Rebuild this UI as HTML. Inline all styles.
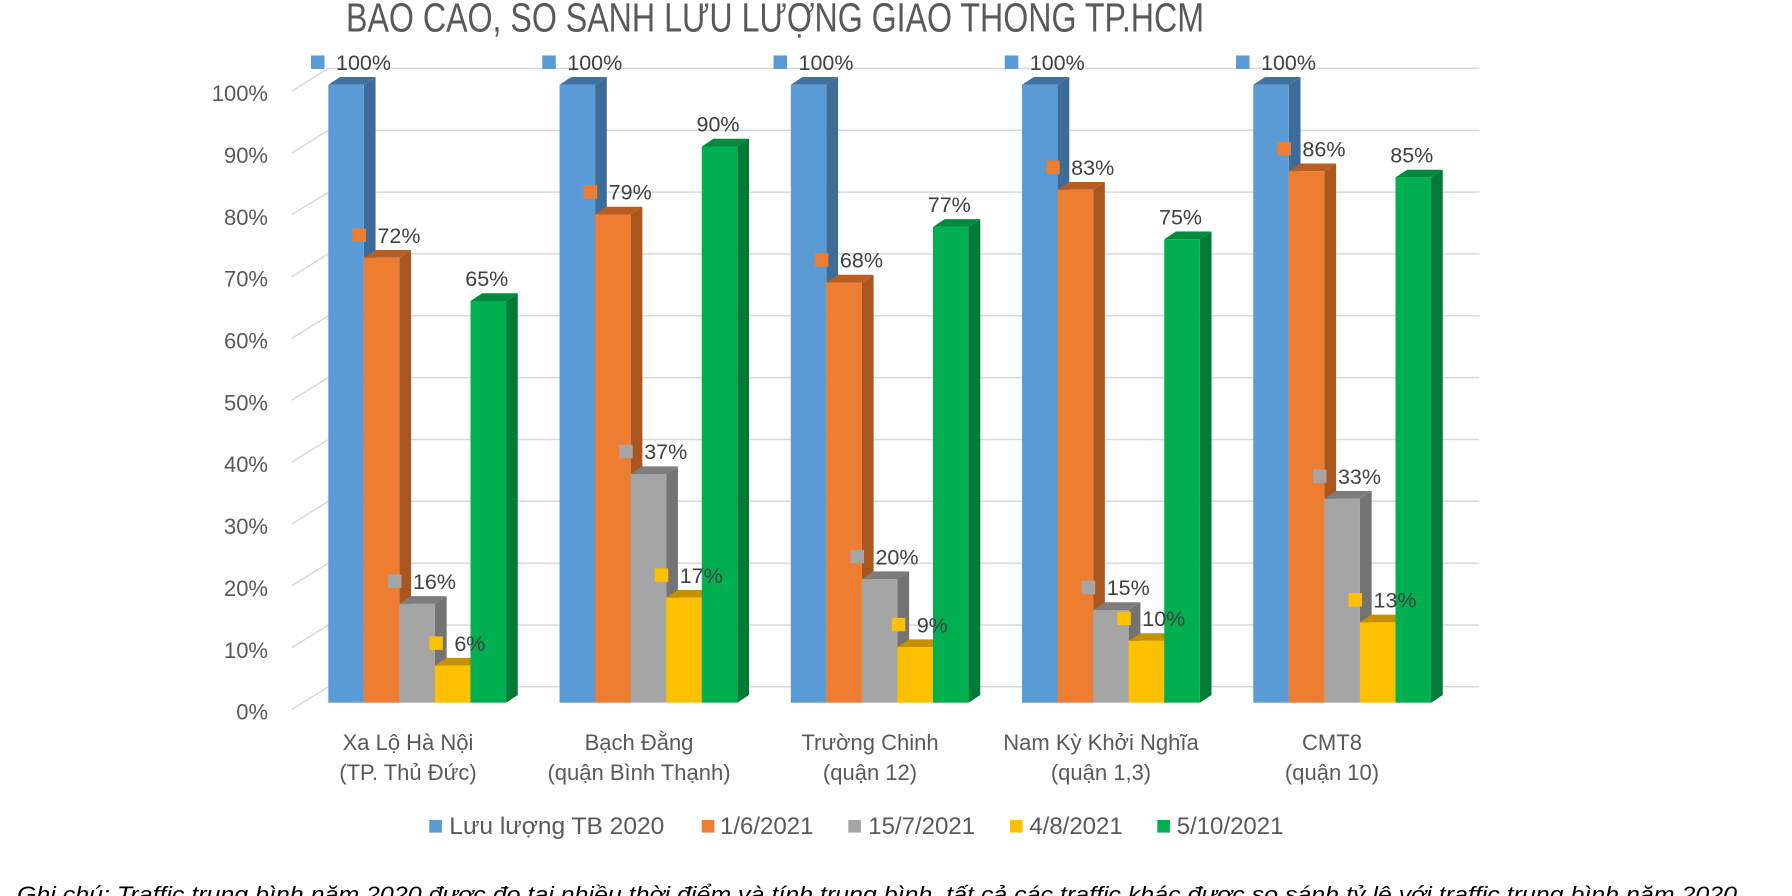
<!DOCTYPE html>
<html><head><meta charset="utf-8"><style>
html,body{margin:0;padding:0;background:#fff;}
svg{display:block;}
text{font-family:"Liberation Sans","Noto Sans CJK SC",sans-serif;}
</style></head><body>
<svg width="1792" height="896" viewBox="0 0 1792 896" xmlns="http://www.w3.org/2000/svg">
<defs><clipPath id="tc"><rect x="0" y="2" width="1792" height="60"/></clipPath></defs>
<rect width="1792" height="896" fill="#fff"/>
<g clip-path="url(#tc)">
<text x="346" y="31.5" font-size="41" fill="#595959" textLength="858" lengthAdjust="spacingAndGlyphs">BÁO CÁO, SO SÁNH LƯU LƯỢNG GIAO THÔNG TP.HCM</text>
</g>
<g stroke="#D9D9D9" stroke-width="1.5" fill="none">
<polyline points="291.7,709.5 328.3,686.8 1479.3,686.8"/>
<polyline points="291.7,647.66 328.3,624.96 1479.3,624.96"/>
<polyline points="291.7,585.82 328.3,563.12 1479.3,563.12"/>
<polyline points="291.7,523.98 328.3,501.28 1479.3,501.28"/>
<polyline points="291.7,462.14 328.3,439.44 1479.3,439.44"/>
<polyline points="291.7,400.3 328.3,377.6 1479.3,377.6"/>
<polyline points="291.7,338.46 328.3,315.76 1479.3,315.76"/>
<polyline points="291.7,276.62 328.3,253.92 1479.3,253.92"/>
<polyline points="291.7,214.78 328.3,192.08 1479.3,192.08"/>
<polyline points="291.7,152.94 328.3,130.24 1479.3,130.24"/>
<polyline points="291.7,91.1 328.3,68.4 1479.3,68.4"/>
</g>
<g font-size="22" fill="#595959" text-anchor="end">
<text x="268" y="101.2">100%</text>
<text x="268" y="163.04">90%</text>
<text x="268" y="224.88">80%</text>
<text x="268" y="286.72">70%</text>
<text x="268" y="348.56">60%</text>
<text x="268" y="410.4">50%</text>
<text x="268" y="472.24">40%</text>
<text x="268" y="534.08">30%</text>
<text x="268" y="595.92">20%</text>
<text x="268" y="657.76">10%</text>
<text x="268" y="719.6">0%</text>
</g>

<!-- Group 1 -->
<g transform="translate(328.3,0)"><polygon points="35.55,84.7 47.25,77 47.25,695 35.55,702.7" fill="#3E6C98"/><polygon points="0,84.7 11.7,77 47.25,77 35.55,84.7" fill="#41729F"/><rect x="0" y="84.7" width="35.55" height="618" fill="#5B9BD5"/></g>
<g transform="translate(363.85,0)"><polygon points="35.55,257.74 47.25,250.04 47.25,695 35.55,702.7" fill="#A9571F"/><polygon points="0,257.74 11.7,250.04 47.25,250.04 35.55,257.74" fill="#B85E22"/><rect x="0" y="257.74" width="35.55" height="444.96" fill="#ED7D31"/></g>
<g transform="translate(399.4,0)"><polygon points="35.55,603.82 47.25,596.12 47.25,695 35.55,702.7" fill="#737373"/><polygon points="0,603.82 11.7,596.12 47.25,596.12 35.55,603.82" fill="#7D7D7D"/><rect x="0" y="603.82" width="35.55" height="98.88" fill="#A5A5A5"/></g>
<g transform="translate(434.95,0)"><polygon points="35.55,665.62 47.25,657.92 47.25,695 35.55,702.7" fill="#B88A00"/><polygon points="0,665.62 11.7,657.92 47.25,657.92 35.55,665.62" fill="#C49200"/><rect x="0" y="665.62" width="35.55" height="37.08" fill="#FFC000"/></g>
<g transform="translate(470.5,0)"><polygon points="35.55,301 47.25,293.3 47.25,695 35.55,702.7" fill="#007A37"/><polygon points="0,301 11.7,293.3 47.25,293.3 35.55,301" fill="#008A3E"/><rect x="0" y="301" width="35.55" height="401.7" fill="#00B050"/></g>

<!-- Group 2 -->
<g transform="translate(559.55,0)"><polygon points="35.55,84.7 47.25,77 47.25,695 35.55,702.7" fill="#3E6C98"/><polygon points="0,84.7 11.7,77 47.25,77 35.55,84.7" fill="#41729F"/><rect x="0" y="84.7" width="35.55" height="618" fill="#5B9BD5"/></g>
<g transform="translate(595.1,0)"><polygon points="35.55,214.48 47.25,206.78 47.25,695 35.55,702.7" fill="#A9571F"/><polygon points="0,214.48 11.7,206.78 47.25,206.78 35.55,214.48" fill="#B85E22"/><rect x="0" y="214.48" width="35.55" height="488.22" fill="#ED7D31"/></g>
<g transform="translate(630.65,0)"><polygon points="35.55,474.04 47.25,466.34 47.25,695 35.55,702.7" fill="#737373"/><polygon points="0,474.04 11.7,466.34 47.25,466.34 35.55,474.04" fill="#7D7D7D"/><rect x="0" y="474.04" width="35.55" height="228.66" fill="#A5A5A5"/></g>
<g transform="translate(666.2,0)"><polygon points="35.55,597.64 47.25,589.94 47.25,695 35.55,702.7" fill="#B88A00"/><polygon points="0,597.64 11.7,589.94 47.25,589.94 35.55,597.64" fill="#C49200"/><rect x="0" y="597.64" width="35.55" height="105.06" fill="#FFC000"/></g>
<g transform="translate(701.75,0)"><polygon points="35.55,146.5 47.25,138.8 47.25,695 35.55,702.7" fill="#007A37"/><polygon points="0,146.5 11.7,138.8 47.25,138.8 35.55,146.5" fill="#008A3E"/><rect x="0" y="146.5" width="35.55" height="556.2" fill="#00B050"/></g>

<!-- Group 3 -->
<g transform="translate(790.8,0)"><polygon points="35.55,84.7 47.25,77 47.25,695 35.55,702.7" fill="#3E6C98"/><polygon points="0,84.7 11.7,77 47.25,77 35.55,84.7" fill="#41729F"/><rect x="0" y="84.7" width="35.55" height="618" fill="#5B9BD5"/></g>
<g transform="translate(826.35,0)"><polygon points="35.55,282.46 47.25,274.76 47.25,695 35.55,702.7" fill="#A9571F"/><polygon points="0,282.46 11.7,274.76 47.25,274.76 35.55,282.46" fill="#B85E22"/><rect x="0" y="282.46" width="35.55" height="420.24" fill="#ED7D31"/></g>
<g transform="translate(861.9,0)"><polygon points="35.55,579.1 47.25,571.4 47.25,695 35.55,702.7" fill="#737373"/><polygon points="0,579.1 11.7,571.4 47.25,571.4 35.55,579.1" fill="#7D7D7D"/><rect x="0" y="579.1" width="35.55" height="123.6" fill="#A5A5A5"/></g>
<g transform="translate(897.45,0)"><polygon points="35.55,647.08 47.25,639.38 47.25,695 35.55,702.7" fill="#B88A00"/><polygon points="0,647.08 11.7,639.38 47.25,639.38 35.55,647.08" fill="#C49200"/><rect x="0" y="647.08" width="35.55" height="55.62" fill="#FFC000"/></g>
<g transform="translate(933,0)"><polygon points="35.55,226.84 47.25,219.14 47.25,695 35.55,702.7" fill="#007A37"/><polygon points="0,226.84 11.7,219.14 47.25,219.14 35.55,226.84" fill="#008A3E"/><rect x="0" y="226.84" width="35.55" height="475.86" fill="#00B050"/></g>

<!-- Group 4 -->
<g transform="translate(1022.05,0)"><polygon points="35.55,84.7 47.25,77 47.25,695 35.55,702.7" fill="#3E6C98"/><polygon points="0,84.7 11.7,77 47.25,77 35.55,84.7" fill="#41729F"/><rect x="0" y="84.7" width="35.55" height="618" fill="#5B9BD5"/></g>
<g transform="translate(1057.6,0)"><polygon points="35.55,189.76 47.25,182.06 47.25,695 35.55,702.7" fill="#A9571F"/><polygon points="0,189.76 11.7,182.06 47.25,182.06 35.55,189.76" fill="#B85E22"/><rect x="0" y="189.76" width="35.55" height="512.94" fill="#ED7D31"/></g>
<g transform="translate(1093.15,0)"><polygon points="35.55,610 47.25,602.3 47.25,695 35.55,702.7" fill="#737373"/><polygon points="0,610 11.7,602.3 47.25,602.3 35.55,610" fill="#7D7D7D"/><rect x="0" y="610" width="35.55" height="92.7" fill="#A5A5A5"/></g>
<g transform="translate(1128.7,0)"><polygon points="35.55,640.9 47.25,633.2 47.25,695 35.55,702.7" fill="#B88A00"/><polygon points="0,640.9 11.7,633.2 47.25,633.2 35.55,640.9" fill="#C49200"/><rect x="0" y="640.9" width="35.55" height="61.8" fill="#FFC000"/></g>
<g transform="translate(1164.25,0)"><polygon points="35.55,239.2 47.25,231.5 47.25,695 35.55,702.7" fill="#007A37"/><polygon points="0,239.2 11.7,231.5 47.25,231.5 35.55,239.2" fill="#008A3E"/><rect x="0" y="239.2" width="35.55" height="463.5" fill="#00B050"/></g>

<!-- Group 5 -->
<g transform="translate(1253.3,0)"><polygon points="35.55,84.7 47.25,77 47.25,695 35.55,702.7" fill="#3E6C98"/><polygon points="0,84.7 11.7,77 47.25,77 35.55,84.7" fill="#41729F"/><rect x="0" y="84.7" width="35.55" height="618" fill="#5B9BD5"/></g>
<g transform="translate(1288.85,0)"><polygon points="35.55,171.22 47.25,163.52 47.25,695 35.55,702.7" fill="#A9571F"/><polygon points="0,171.22 11.7,163.52 47.25,163.52 35.55,171.22" fill="#B85E22"/><rect x="0" y="171.22" width="35.55" height="531.48" fill="#ED7D31"/></g>
<g transform="translate(1324.4,0)"><polygon points="35.55,498.76 47.25,491.06 47.25,695 35.55,702.7" fill="#737373"/><polygon points="0,498.76 11.7,491.06 47.25,491.06 35.55,498.76" fill="#7D7D7D"/><rect x="0" y="498.76" width="35.55" height="203.94" fill="#A5A5A5"/></g>
<g transform="translate(1359.95,0)"><polygon points="35.55,622.36 47.25,614.66 47.25,695 35.55,702.7" fill="#B88A00"/><polygon points="0,622.36 11.7,614.66 47.25,614.66 35.55,622.36" fill="#C49200"/><rect x="0" y="622.36" width="35.55" height="80.34" fill="#FFC000"/></g>
<g transform="translate(1395.5,0)"><polygon points="35.55,177.4 47.25,169.7 47.25,695 35.55,702.7" fill="#007A37"/><polygon points="0,177.4 11.7,169.7 47.25,169.7 35.55,177.4" fill="#008A3E"/><rect x="0" y="177.4" width="35.55" height="525.3" fill="#00B050"/></g>

<!-- Data label markers -->
<g fill="#5B9BD5">
<rect x="311.03" y="55.45" width="13.5" height="13.5"/>
<rect x="542.28" y="55.45" width="13.5" height="13.5"/>
<rect x="773.53" y="55.45" width="13.5" height="13.5"/>
<rect x="1004.78" y="55.45" width="13.5" height="13.5"/>
<rect x="1236.03" y="55.45" width="13.5" height="13.5"/>
</g>
<g fill="#ED7D31">
<rect x="352.43" y="228.49" width="13.5" height="13.5"/>
<rect x="583.68" y="185.23" width="13.5" height="13.5"/>
<rect x="814.93" y="253.21" width="13.5" height="13.5"/>
<rect x="1046.18" y="160.51" width="13.5" height="13.5"/>
<rect x="1277.43" y="141.97" width="13.5" height="13.5"/>
</g>
<g fill="#A5A5A5">
<rect x="387.98" y="574.57" width="13.5" height="13.5"/>
<rect x="619.23" y="444.79" width="13.5" height="13.5"/>
<rect x="850.48" y="549.85" width="13.5" height="13.5"/>
<rect x="1081.73" y="580.75" width="13.5" height="13.5"/>
<rect x="1312.98" y="469.51" width="13.5" height="13.5"/>
</g>
<g fill="#FFC000">
<rect x="429.35" y="636.37" width="13.5" height="13.5"/>
<rect x="654.78" y="568.39" width="13.5" height="13.5"/>
<rect x="891.85" y="617.83" width="13.5" height="13.5"/>
<rect x="1117.28" y="611.65" width="13.5" height="13.5"/>
<rect x="1348.53" y="593.11" width="13.5" height="13.5"/>
</g>

<!-- Data label texts -->
<g font-size="21.5" fill="#404040">
<text x="336.03" y="69.9">100%</text>
<text x="567.28" y="69.9">100%</text>
<text x="798.53" y="69.9">100%</text>
<text x="1029.78" y="69.9">100%</text>
<text x="1261.03" y="69.9">100%</text>
<text x="377.43" y="242.94">72%</text>
<text x="608.68" y="199.68">79%</text>
<text x="839.93" y="267.66">68%</text>
<text x="1071.18" y="174.96">83%</text>
<text x="1302.43" y="156.42">86%</text>
<text x="412.98" y="589.02">16%</text>
<text x="644.23" y="459.24">37%</text>
<text x="875.48" y="564.3">20%</text>
<text x="1106.73" y="595.2">15%</text>
<text x="1337.98" y="483.96">33%</text>
<text x="454.35" y="650.82">6%</text>
<text x="679.78" y="582.84">17%</text>
<text x="916.85" y="632.28">9%</text>
<text x="1142.28" y="626.1">10%</text>
<text x="1373.53" y="607.56">13%</text>
</g>
<g font-size="21.5" fill="#404040" text-anchor="middle">
<text x="486.78" y="286.2">65%</text>
<text x="718.03" y="131.7">90%</text>
<text x="949.28" y="212.04">77%</text>
<text x="1180.53" y="224.4">75%</text>
<text x="1411.78" y="162.6">85%</text>
</g>

<!-- Category labels -->
<g font-size="22" fill="#595959" text-anchor="middle">
<text x="408" y="750">Xa Lộ Hà Nội</text>
<text x="408" y="780">(TP. Thủ Đức)</text>
<text x="639" y="750">Bạch Đằng</text>
<text x="639" y="780">(quận Bình Thạnh)</text>
<text x="870" y="750">Trường Chinh</text>
<text x="870" y="780">(quận 12)</text>
<text x="1101" y="750">Nam Kỳ Khởi Nghĩa</text>
<text x="1101" y="780">(quận 1,3)</text>
<text x="1332" y="750">CMT8</text>
<text x="1332" y="780">(quận 10)</text>
</g>

<!-- Legend -->
<rect x="429.3" y="820" width="12.6" height="12.6" fill="#5B9BD5"/>
<rect x="701.7" y="820" width="12.6" height="12.6" fill="#ED7D31"/>
<rect x="848.3" y="820" width="12.6" height="12.6" fill="#A5A5A5"/>
<rect x="1010" y="820" width="12.6" height="12.6" fill="#FFC000"/>
<rect x="1157.3" y="820" width="12.6" height="12.6" fill="#00B050"/>
<g font-size="24" fill="#595959">
<text x="449.3" y="834" textLength="215" lengthAdjust="spacingAndGlyphs">Lưu lượng TB 2020</text>
<text x="720" y="834">1/6/2021</text>
<text x="868.3" y="834">15/7/2021</text>
<text x="1029.3" y="834">4/8/2021</text>
<text x="1176.7" y="834">5/10/2021</text>
</g>

<!-- Note -->
<text x="17" y="902" font-size="22" font-style="italic" fill="#000" textLength="1720" lengthAdjust="spacingAndGlyphs">Ghi chú: Traffic trung bình năm 2020 được đo tại nhiều thời điểm và tính trung bình, tất cả các traffic khác được so sánh tỷ lệ với traffic trung bình năm 2020</text>
</svg>
</body></html>
